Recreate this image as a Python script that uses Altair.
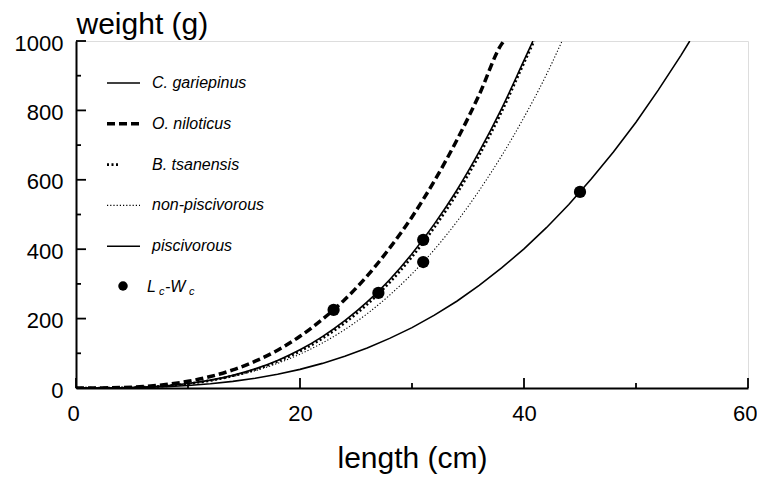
import altair as alt
import pandas as pd

# ---- data (length in cm, weight in g) ----
names = ["C. gariepinus", "O. niloticus", "B. tsanensis", "non-piscivorous", "piscivorous"]

len_gar = [0, 2, 4, 6, 8, 10, 12, 14, 16, 18, 20, 22, 24, 26, 28, 30, 32, 34, 36, 38, 40, 40.8]
w_gar = [0, 0.09, 0.75, 2.6, 6.4, 12.8, 22.6, 36.4, 55.1, 79.4, 110, 148, 194, 248, 312, 387, 473, 570, 681, 805, 944, 1000]

len_nil = [0, 2, 4, 6, 8, 10, 12, 14, 16, 18, 20, 22, 24, 26, 28, 30, 32, 34, 36, 38, 38.2]
w_nil = [0, 0.17, 1.3, 4.3, 10, 19.3, 33.1, 52.1, 77.2, 109, 149, 198, 255, 323, 403, 493, 597, 714, 845, 991, 1000]

len_tsa = [0, 2, 4, 6, 8, 10, 12, 14, 16, 18, 20, 22, 24, 26, 28, 30, 32, 34, 36, 38, 40, 40.9]
w_tsa = [0, 0.08, 0.7, 2.5, 6.1, 12.2, 21.6, 35, 53, 76.5, 106, 143, 188, 241, 304, 378, 463, 560, 671, 796, 937, 1000]

len_non = [0, 2, 4, 6, 8, 10, 12, 14, 16, 18, 20, 22, 24, 26, 28, 30, 32, 34, 36, 38, 40, 42, 43.4]
w_non = [0, 0.1, 0.78, 2.6, 6.2, 12.2, 21.1, 33.4, 49.9, 71.1, 97.5, 129.7, 168.4, 214.2, 267.5, 329, 399, 479, 569, 669, 780, 903, 1000]

len_pis = [0, 2, 4, 6, 8, 10, 12, 14, 16, 18, 20, 22, 24, 26, 28, 30, 32, 34, 36, 38, 40, 42, 44, 46, 48, 50, 52, 54, 54.8]
w_pis = [0, 0.07, 0.5, 1.6, 3.8, 7.2, 12.2, 19.1, 28.1, 39.6, 53.7, 70.9, 91.2, 115, 143, 174, 210, 250, 296, 346, 401, 462, 529, 602, 681, 766, 859, 958, 1000]

lc = [23, 27, 31, 31, 45]
wc = [225, 274, 427, 363, 565]

x_ticks = [0, 10, 20, 30, 40, 50, 60]
x_labels = [0, 20, 40, 60]
y_ticks = [0, 100, 200, 300, 400, 500, 600, 700, 800, 900, 1000]
y_labels = [0, 200, 400, 600, 800, 1000]

series = {
    "C. gariepinus": (len_gar, w_gar),
    "O. niloticus": (len_nil, w_nil),
    "B. tsanensis": (len_tsa, w_tsa),
    "non-piscivorous": (len_non, w_non),
    "piscivorous": (len_pis, w_pis),
}

styles = {
    "C. gariepinus": dict(strokeWidth=1.6),
    "O. niloticus": dict(strokeWidth=3.5, strokeDash=[8, 4]),
    "B. tsanensis": dict(strokeWidth=2.6, strokeDash=[2, 2.5]),
    "non-piscivorous": dict(strokeWidth=1.1, strokeDash=[1.2, 2]),
    "piscivorous": dict(strokeWidth=1.6),
}

W, H = 672, 347
FONT = "Liberation Sans"

x_scale = alt.Scale(domain=[0, 60], nice=False, zero=False)
y_scale = alt.Scale(domain=[0, 1000], nice=False)

x_axis = alt.Axis(values=x_labels, ticks=False, grid=False, domainColor="black",
                  domainWidth=2, labelFontSize=22, labelColor="black", labelPadding=15,
                  labelFont=FONT, labelFlush=True, labelFlushOffset=9, format="d",
                  title="length (cm)", titleFont=FONT, titleFontSize=30,
                  titleFontWeight="normal", titleColor="black", titleY=79,
                  titleBaseline="alphabetic")
y_axis = alt.Axis(values=y_labels, ticks=False, grid=False, domainColor="black",
                  domainWidth=2, labelFontSize=22, labelColor="black", labelPadding=13,
                  labelOffset=2, labelFont=FONT, format="d",
                  title="weight (g)", titleFont=FONT, titleFontSize=30,
                  titleFontWeight="normal", titleColor="black", titleAngle=0,
                  titleAlign="left", titleX=0, titleY=-8, titleBaseline="alphabetic")


def X(field):
    return alt.X(field, type="quantitative", scale=x_scale, axis=x_axis)


def Y(field):
    return alt.Y(field, type="quantitative", scale=y_scale, axis=y_axis)


layers = []

# axis tick marks (inward)
xt = pd.DataFrame({"v": x_ticks})
xt["major"] = [v in x_labels for v in x_ticks]
yt = pd.DataFrame({"v": y_ticks})
yt["major"] = [v in y_labels for v in y_ticks]

layers.append(alt.Chart(xt).transform_filter("datum.major").mark_rule(color="black", strokeWidth=1.8)
              .encode(x=X("v"), y=alt.value(H), y2=alt.value(H - 10)))
layers.append(alt.Chart(xt).transform_filter("!datum.major").mark_rule(color="black", strokeWidth=1.8)
              .encode(x=X("v"), y=alt.value(H), y2=alt.value(H - 5)))
layers.append(alt.Chart(yt).transform_filter("datum.major").mark_rule(color="black", strokeWidth=1.8)
              .encode(y=Y("v"), x=alt.value(0), x2=alt.value(10)))
layers.append(alt.Chart(yt).transform_filter("!datum.major").mark_rule(color="black", strokeWidth=1.8)
              .encode(y=Y("v"), x=alt.value(0), x2=alt.value(5)))

# curves
for name in names:
    lens, ws = series[name]
    df = pd.DataFrame({"length": lens, "weight": ws})
    interp = "linear" if name == "piscivorous" else "monotone"
    layers.append(alt.Chart(df).mark_line(color="black", interpolate=interp, clip=True,
                                          **styles[name])
                  .encode(x=X("length"), y=Y("weight"), order="length:Q"))

# Lc-Wc points
pts = pd.DataFrame({"length": lc, "weight": wc})
layers.append(alt.Chart(pts).mark_point(shape="circle", filled=True, size=150, color="black",
                                        opacity=1)
              .encode(x=X("length"), y=Y("weight")))

# legend (drawn inside plot)
row_y = [42 + 40.8 * i for i in range(6)]
sample_end = {"B. tsanensis": 42}
for i, name in enumerate(names):
    one = pd.DataFrame({"label": [name]})
    layers.append(alt.Chart(one).mark_rule(color="black", **styles[name])
                  .encode(x=alt.value(31), x2=alt.value(sample_end.get(name, 64)),
                          y=alt.value(row_y[i])))
    layers.append(alt.Chart(one).mark_text(align="left", baseline="middle", font=FONT,
                                           fontSize=16, fontStyle="italic", color="black")
                  .encode(x=alt.value(76), y=alt.value(row_y[i]), text="label:N"))

leg = pd.DataFrame({"label": ["Lc-Wc"]})
layers.append(alt.Chart(leg).mark_point(shape="circle", filled=True, size=90, color="black",
                                        opacity=1)
              .encode(x=alt.value(47), y=alt.value(row_y[5] - 1)))
lw_parts = [("L", 71, 0, 16), ("c", 83, 5, 11), ("-W", 89, 0, 16), ("c", 113, 5, 11)]
for txt, px, dy, fs in lw_parts:
    layers.append(alt.Chart(pd.DataFrame({"t": [txt]})).mark_text(
        align="left", baseline="middle", font=FONT, fontSize=fs, fontStyle="italic",
        color="black", dy=dy)
        .encode(x=alt.value(px), y=alt.value(row_y[5]), text="t:N"))

chart = alt.layer(*layers).properties(
    width=W, height=H,
    autosize=alt.AutoSizeParams(type="none"),
    padding={"left": 68, "top": 33, "right": 9, "bottom": 86},
).configure_view(stroke=None).configure(font=FONT, background="white")

chart.save("out.html", embed_options={"renderer": "svg", "actions": False})
